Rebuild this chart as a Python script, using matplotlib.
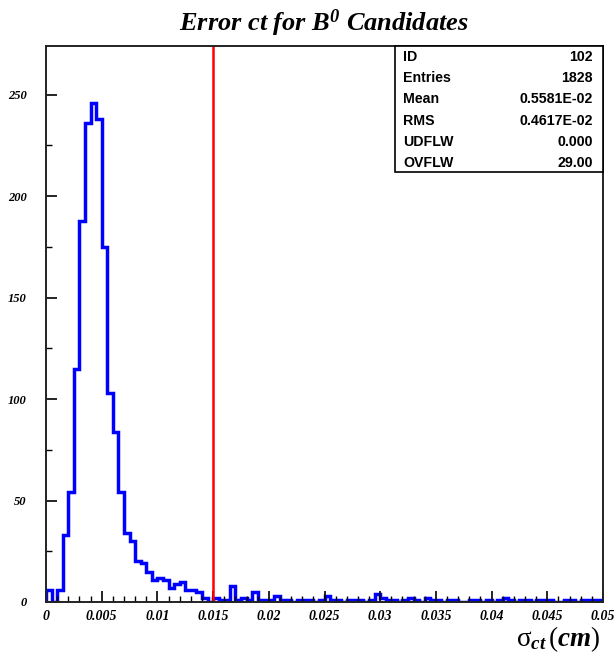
import matplotlib
matplotlib.use('Agg')
import matplotlib.pyplot as plt
import matplotlib.ticker as ticker
import numpy as np

# histogram: 100 bins of 0.0005 cm between 0 and 0.05
x_min = 0.0
x_max = 0.05
n_bins = 100
counts = [
    6, 0, 6, 33, 54, 115, 188, 236, 246, 238,
    175, 103, 84, 54, 34, 30, 20, 19, 15, 11,
    12, 11, 7, 9, 10, 6, 6, 5, 2, 0,
    2, 1, 1, 8, 1, 2, 1, 5, 1, 1,
    1, 3, 1, 1, 0, 1, 1, 1, 0, 1,
    3, 1, 1, 0, 1, 1, 1, 0, 1, 4,
    2, 1, 1, 0, 1, 2, 1, 0, 2, 1,
    1, 0, 1, 1, 0, 0, 1, 1, 0, 1,
    0, 1, 2, 1, 0, 1, 1, 0, 1, 1,
    1, 0, 0, 1, 1, 0, 1, 1, 1, 1,
]
cut_value = 0.015

stat_labels = ['ID', 'Entries', 'Mean', 'RMS', 'UDFLW', 'OVFLW']
stat_values = ['102', '1828', '0.5581E-02', '0.4617E-02', '0.000', '29.00']

plt.rcParams['mathtext.fontset'] = 'custom'
plt.rcParams['mathtext.rm'] = 'Liberation Serif'
plt.rcParams['mathtext.it'] = 'Liberation Serif:bold:italic'
plt.rcParams['mathtext.bf'] = 'Liberation Serif:bold:italic'

SERIF = dict(family='Liberation Serif', weight='bold', style='italic')

fig = plt.figure(figsize=(6.16, 6.59), dpi=100)
ax = fig.add_axes([46 / 616, 1 - 602 / 659, 557 / 616, 556 / 659])

edges = np.linspace(x_min, x_max, n_bins + 1)
ax.stairs(counts, edges, color='#0000ff', linewidth=2.5, baseline=0)
ax.axvline(cut_value, color='#ff0000', linewidth=1.8)

ax.set_xlim(x_min, x_max)
ax.set_ylim(0, 274)

ax.xaxis.set_major_locator(ticker.MultipleLocator(0.005))
ax.xaxis.set_minor_locator(ticker.MultipleLocator(0.001))
ax.yaxis.set_major_locator(ticker.MultipleLocator(50))
ax.yaxis.set_minor_locator(ticker.MultipleLocator(25))
ax.xaxis.set_major_formatter(ticker.FuncFormatter(lambda v, p: f'{v:.3f}'.rstrip('0').rstrip('.') if v else '0'))
ax.tick_params(which='both', direction='in', top=False, right=False)
ax.tick_params(axis='x', which='major', length=8, width=1.2, pad=6)
ax.tick_params(axis='x', which='minor', length=4, width=1.0)
ax.tick_params(axis='y', which='major', length=8, width=1.2, pad=14)
ax.tick_params(axis='y', which='minor', length=4, width=1.0)
for lab in ax.get_xticklabels():
    lab.set(family='Liberation Serif', weight='bold', style='italic', fontsize=10)
for lab in ax.get_yticklabels():
    lab.set(family='Liberation Serif', weight='bold', style='italic', fontsize=9)
for sp in ax.spines.values():
    sp.set_linewidth(1.4)
    sp.set_color('#222222')

# statistics box in the top right corner
bx0 = 395
bx1 = 603
by0 = 46
by1 = 172
box = plt.Rectangle((bx0 / 616, 1 - by1 / 659), (bx1 - bx0) / 616, (by1 - by0) / 659,
                    transform=fig.transFigure, facecolor='white', edgecolor='black',
                    linewidth=1.2, zorder=5)
fig.add_artist(box)
for i, (lab, val) in enumerate(zip(stat_labels, stat_values)):
    y = 1 - (57 + i * 21.2) / 659
    fig.text(403 / 616, y, lab, ha='left', va='center', family='Liberation Sans',
             weight='bold', fontsize=10.2, zorder=6)
    fig.text(593 / 616, y, val, ha='right', va='center', family='Liberation Sans',
             weight='bold', fontsize=10.2, zorder=6)

fig.text(324 / 616, 1 - 23 / 659, r'Error ct for B$^{\mathbf{0}}$ Candidates', ha='center',
         va='center', fontsize=19, **SERIF)
fig.text(601 / 616, 1 - 639 / 659, r'$\mathrm{\sigma}_{ct}\,(cm)$', ha='right',
         va='center', fontsize=19.5, **SERIF)

fig.savefig('out.png', dpi=100)
